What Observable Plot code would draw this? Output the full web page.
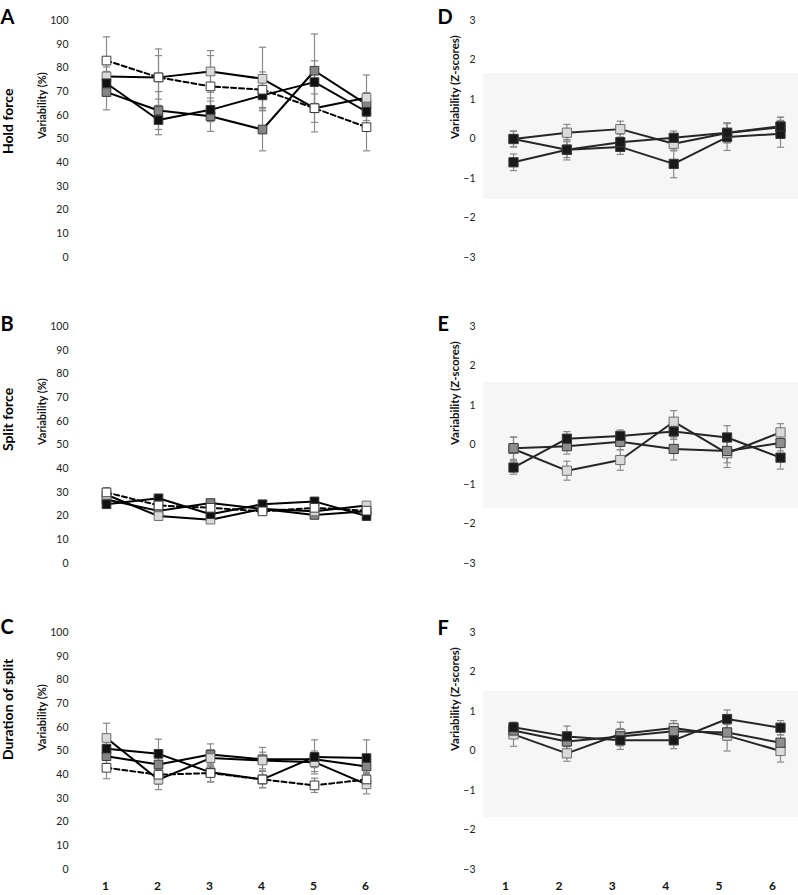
<!DOCTYPE html>
<html><head><meta charset="utf-8">
<script src="https://cdn.jsdelivr.net/npm/d3@7"></script>
<script src="https://cdn.jsdelivr.net/npm/@observablehq/plot@0.6"></script>
<style>
body{margin:0;background:#fff;overflow:hidden;}
#wrap{position:relative;width:798px;height:895px;}
.panel{position:absolute;}
.panel svg{overflow:visible;}
</style></head><body><div id="wrap"></div>
<script>
// ---------- categories & ticks ----------
const sessions = [1, 2, 3, 4, 5, 6];
const pctTicks = [0, 10, 20, 30, 40, 50, 60, 70, 80, 90, 100];
const zTicks = [-3, -2, -1, 0, 1, 2, 3];
const rowLabels = ["Hold force", "Split force", "Duration of split"];
const leftLetters = ["A", "B", "C"];
const rightLetters = ["D", "E", "F"];
const pctLabel = "Variability (%)";
const zLabel = "Variability (Z-scores)";

// ---------- A: Hold force (%) ----------
const holdDark = [69.8, 62, 59.6, 54, 78.8, 64.6];
const holdDarkErr = [7.5, 8, 6.4, 9, 15.5, 5];
const holdLight = [76.4, 76, 78.5, 75.4, 63, 67.4];
const holdLightErr = [4, 9.2, 8.8, 13.3, 6, 9.6];
const holdBlack = [73.5, 58, 62.3, 68.4, 74, 61.5];
const holdBlackErr = [5, 6.2, 5, 6.5, 9, 5];
const holdWhite = [83.1, 76, 72.2, 70.8, 63, 55];
const holdWhiteErr = [10, 12, 13, 7.5, 10, 10];

// ---------- B: Split force (%) ----------
const splitDark = [27, 22.2, 25.5, 23, 20.5, 22];
const splitDarkErr = [1.5, 1.5, 1.5, 1.5, 1.5, 1.5];
const splitLight = [29, 20, 18.5, 23, 22, 24.5];
const splitLightErr = [1.5, 1.5, 1.5, 1.5, 1.5, 1.5];
const splitBlack = [25, 27.5, 20.8, 25, 26.2, 20];
const splitBlackErr = [1.5, 1.5, 1.5, 1.5, 1.5, 1];
const splitWhite = [30, 24.5, 23.5, 22, 23.5, 22.3];
const splitWhiteErr = [2, 2, 2, 1.5, 2, 1.5];

// ---------- C: Duration of split (%) ----------
const durDark = [47.8, 44.3, 48.5, 46.5, 46.5, 43.5];
const durDarkErr = [3, 3, 4.5, 5, 3.5, 3];
const durLight = [55.5, 37.9, 47, 46, 45.3, 35.9];
const durLightErr = [6.2, 4.2, 3.5, 3.5, 4, 4];
const durBlack = [51, 48.8, 41, 38, 47.5, 47];
const durBlackErr = [3, 6.2, 4, 3.5, 7.2, 7.7];
const durWhite = [42.9, 40, 40.7, 38, 35.5, 38];
const durWhiteErr = [4.6, 4, 3.8, 3.5, 3, 3];

// ---------- D: Hold force (Z-scores) ----------
const zHoldLight = [0, 0.16, 0.25, -0.12, 0.15, 0.3];
const zHoldLightErr = [0.2, 0.21, 0.2, 0.18, 0.25, 0.25];
const zHoldMid = [0, -0.27, -0.2, -0.63, 0.05, 0.13];
const zHoldMidErr = [0.2, 0.2, 0.19, 0.35, 0.34, 0.34];
const zHoldBlack = [-0.59, -0.27, -0.08, 0.03, 0.16, 0.32];
const zHoldBlackErr = [0.21, 0.26, 0.2, 0.17, 0.25, 0.23];

// ---------- E: Split force (Z-scores) ----------
const zSplitLight = [-0.1, -0.65, -0.38, 0.59, -0.21, 0.32];
const zSplitLightErr = [0.3, 0.24, 0.26, 0.28, 0.36, 0.22];
const zSplitMid = [-0.08, -0.03, 0.08, -0.1, -0.15, 0.05];
const zSplitMidErr = [0.28, 0.2, 0.2, 0.28, 0.3, 0.2];
const zSplitBlack = [-0.57, 0.16, 0.23, 0.34, 0.19, -0.32];
const zSplitBlackErr = [0.17, 0.18, 0.15, 0.2, 0.3, 0.29];

// ---------- F: Duration of split (Z-scores) ----------
const zDurLight = [0.42, -0.06, 0.43, 0.58, 0.39, 0];
const zDurLightErr = [0.3, 0.2, 0.3, 0.19, 0.39, 0.28];
const zDurMid = [0.52, 0.24, 0.37, 0.5, 0.47, 0.21];
const zDurMidErr = [0.15, 0.2, 0.2, 0.2, 0.2, 0.2];
const zDurBlack = [0.6, 0.37, 0.27, 0.27, 0.81, 0.59];
const zDurBlackErr = [0.13, 0.26, 0.23, 0.21, 0.23, 0.18];

// shaded reference band in Z panels (D, E, F)
const bandLow = [-1.53, -1.6, -1.69];
const bandHigh = [1.66, 1.58, 1.51];

// ---------- styling ----------
const FONT = "Lato, 'Open Sans', sans-serif";
const fills = {dark: "#858585", light: "#dadada", black: "#111111", white: "#ffffff", zdark: "#1a1a1a", zmid: "#8e8e8e"};
const capSymbol = {draw(ctx) { ctx.moveTo(-3.6, 0); ctx.lineTo(3.6, 0); }};
const rowsOf = (vals, errs) => sessions.map((x, i) => ({x, y: vals[i], e: errs[i]}));

const leftPanels = [
  {series: [["dark", holdDark, holdDarkErr], ["light", holdLight, holdLightErr], ["black", holdBlack, holdBlackErr], ["white", holdWhite, holdWhiteErr]], letterDy: -10.5, rowDy: 15},
  {series: [["dark", splitDark, splitDarkErr], ["light", splitLight, splitLightErr], ["black", splitBlack, splitBlackErr], ["white", splitWhite, splitWhiteErr]], letterDy: -9.5, rowDy: 6},
  {series: [["dark", durDark, durDarkErr], ["light", durLight, durLightErr], ["black", durBlack, durBlackErr], ["white", durWhite, durWhiteErr]], letterDy: -12.5, rowDy: 9}
];
const rightPanels = [
  {series: [["light", zHoldLight, zHoldLightErr], ["zdark", zHoldMid, zHoldMidErr], ["zdark", zHoldBlack, zHoldBlackErr]], letterDy: -10.3},
  {series: [["light", zSplitLight, zSplitLightErr], ["zmid", zSplitMid, zSplitMidErr], ["zdark", zSplitBlack, zSplitBlackErr]], letterDy: -9.5},
  {series: [["light", zDurLight, zDurLightErr], ["zmid", zDurMid, zDurMidErr], ["zdark", zDurBlack, zDurBlackErr]], letterDy: -12}
];
const tops = [0, 306, 612];

function makePanel(i, right) {
  const cfg = right ? rightPanels[i] : leftPanels[i];
  const bottom = i === 2;
  const height = bottom ? 282 : 280;
  const ml = right ? 83 : 80;
  const marks = [];
  if (right) marks.push(Plot.rect([{lo: bandLow[i], hi: bandHigh[i]}], {y1: "lo", y2: "hi", fill: "#f6f6f6"}));
  // error bars
  for (const [, vals, errs] of cfg.series) {
    const rows = rowsOf(vals, errs);
    marks.push(Plot.ruleX(rows, {x: "x", y1: d => d.y - d.e, y2: d => d.y + d.e, stroke: "#8a8a8a", strokeWidth: 1.2}));
    marks.push(Plot.dot(rows, {x: "x", y: d => d.y + d.e, symbol: capSymbol, r: 3, stroke: "#8a8a8a", strokeWidth: 1.2, fill: "none"}));
    marks.push(Plot.dot(rows, {x: "x", y: d => d.y - d.e, symbol: capSymbol, r: 3, stroke: "#8a8a8a", strokeWidth: 1.2, fill: "none"}));
  }
  // lines
  for (const [key, vals, errs] of cfg.series) {
    marks.push(Plot.line(rowsOf(vals, errs), {x: "x", y: "y", stroke: right ? "#262626" : "#000", strokeWidth: 2,
      strokeDasharray: key === "white" ? "5,3" : null}));
  }
  // markers
  for (const [key, vals, errs] of cfg.series) {
    marks.push(Plot.dot(rowsOf(vals, errs), {x: "x", y: "y", symbol: "square", r: right ? 5.2 : 4.9,
      fill: fills[key], stroke: key === "light" ? "#6e6e6e" : "#3a3a3a", strokeWidth: 1}));
  }
  // axes & labels
  marks.push(Plot.axisY(right ? zTicks : pctTicks, {tickSize: 0, tickPadding: right ? 8 : 12, fontSize: 10.5, label: null, color: "#222"}));
  if (bottom) marks.push(Plot.axisX(sessions, {tickSize: 0, tickPadding: 12, fontSize: 12, fontWeight: "bold", label: null, color: "#111", dx: right ? -8 : -1}));
  marks.push(Plot.text([right ? zLabel : pctLabel], {frameAnchor: "left", rotate: -90, dx: right ? -28 : -38, fontWeight: "bold", fontSize: right ? 11.5 : 11, fill: "#111"}));
  if (!right) marks.push(Plot.text([rowLabels[i]], {frameAnchor: "left", rotate: -90, dx: -72, dy: cfg.rowDy, fontWeight: "bold", fontSize: 14, fill: "#000"}));
  marks.push(Plot.text([right ? rightLetters[i] : leftLetters[i]], {frameAnchor: "top-left", textAnchor: "start", dx: right ? -46 : -80, dy: cfg.letterDy, fontWeight: "bold", fontSize: 20, fill: "#000"}));

  const plot = Plot.plot({
    width: right ? 398 : 400,
    height,
    marginLeft: ml,
    marginRight: right ? 0 : 8,
    marginTop: 20,
    marginBottom: height - 20 - 237,
    x: {domain: right ? [0.438, 6.337] : [0.5, 6.5], axis: null},
    y: {domain: right ? [-3, 3] : [0, 100], axis: null},
    style: {fontFamily: FONT, background: "transparent", overflow: "visible"},
    marks
  });
  const div = document.createElement("div");
  div.className = "panel";
  div.style.left = (right ? 400 : 0) + "px";
  div.style.top = tops[i] + "px";
  div.appendChild(plot);
  document.getElementById("wrap").appendChild(div);
}
for (let i = 0; i < 3; i++) { makePanel(i, false); makePanel(i, true); }
</script></body></html>
